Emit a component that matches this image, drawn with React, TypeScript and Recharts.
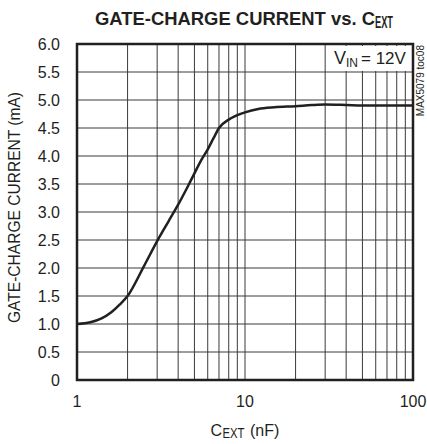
import { CartesianGrid, Line, LineChart, ReferenceArea, XAxis, YAxis } from "recharts"

// C_EXT (nF) vs gate-charge current (mA)
const cext = [1, 1.2, 1.4, 1.6, 1.8, 2, 2.5, 3, 3.5, 4, 4.5, 5, 5.5, 6, 6.5, 7, 8, 9, 10, 12, 15, 20, 25, 30, 40, 50, 70, 100]
const current = [
  1.0, 1.03, 1.1, 1.21, 1.35, 1.5, 2.03, 2.48, 2.83, 3.13, 3.42, 3.69, 3.93, 4.12, 4.32, 4.5, 4.65, 4.73, 4.78, 4.84,
  4.87, 4.89, 4.91, 4.92, 4.91, 4.9, 4.9, 4.9,
]

const xTicks = [1, 2, 3, 4, 5, 6, 7, 8, 9, 10, 20, 30, 40, 50, 60, 70, 80, 90, 100]
const xLabels = [1, 10, 100]
const yTicks = [0, 0.5, 1, 1.5, 2, 2.5, 3, 3.5, 4, 4.5, 5, 5.5, 6]

const data = cext.map((c, i) => ({ c, i: current[i] }))

const font = "'Liberation Sans', Arial, sans-serif"
const ink = "#231f20"

export default function App() {
  return (
    <div style={{ position: "absolute", left: 0, top: 0, width: 427, height: 444, background: "#fff", fontFamily: font }}>
      <LineChart width={427} height={444} data={data} margin={{ top: 44, right: 14, bottom: 24, left: 17 }}>
        <CartesianGrid stroke="#3a3a3a" strokeWidth={1} />
        <XAxis
          dataKey="c"
          type="number"
          scale="log"
          domain={[1, 100]}
          ticks={xTicks}
          interval={0}
          tickFormatter={(v: number) => (xLabels.includes(v) ? String(v) : "")}
          axisLine={false}
          tickLine={false}
          tickMargin={10}
          height={40}
          tick={{ fontSize: 16, fill: ink, fontFamily: font }}
          allowDataOverflow
        />
        <YAxis
          type="number"
          domain={[0, 6]}
          ticks={yTicks}
          interval={0}
          tickFormatter={(v: number) => (v === 0 ? "0" : v.toFixed(1))}
          axisLine={false}
          tickLine={false}
          tickMargin={11}
          width={60}
          tick={{ fontSize: 16, fill: ink, fontFamily: font }}
        />
        <Line
          dataKey="i"
          type="monotone"
          stroke={ink}
          strokeWidth={2.5}
          dot={false}
          isAnimationActive={false}
        />
        <ReferenceArea x1={1} x2={100} y1={0} y2={6} fill="none" stroke={ink} strokeWidth={2.5} ifOverflow="visible" />
      </LineChart>
      <svg width={427} height={444} style={{ position: "absolute", left: 0, top: 0, pointerEvents: "none" }} fontFamily={font} fill={ink}>
        <text x={95} y={25} fontSize={18.5} fontWeight="bold" textLength={280} lengthAdjust="spacingAndGlyphs">
          GATE-CHARGE CURRENT vs. C
        </text>
        <text x={375} y={28} fontSize={16} fontWeight="bold" textLength={18} lengthAdjust="spacingAndGlyphs">
          EXT
        </text>
        <text transform="translate(20,207.5) rotate(-90)" textAnchor="middle" fontSize={16} textLength={231} lengthAdjust="spacingAndGlyphs">
          GATE-CHARGE CURRENT (mA)
        </text>
        <text x={210.5} y={436} fontSize={16}>C</text>
        <text x={222.5} y={438} fontSize={14} textLength={22} lengthAdjust="spacingAndGlyphs">EXT</text>
        <text x={250} y={436} fontSize={16}>(nF)</text>
        <rect x={329} y={46} width={82} height={25} fill="#fff" />
        <text x={334} y={64} fontSize={18}>V</text>
        <text x={346} y={67} fontSize={12}>IN</text>
        <text x={361} y={64} fontSize={17}>= 12V</text>
        <text transform="translate(424,45) rotate(-90)" textAnchor="end" fontSize={10}>MAX5079 toc08</text>
      </svg>
    </div>
  )
}
